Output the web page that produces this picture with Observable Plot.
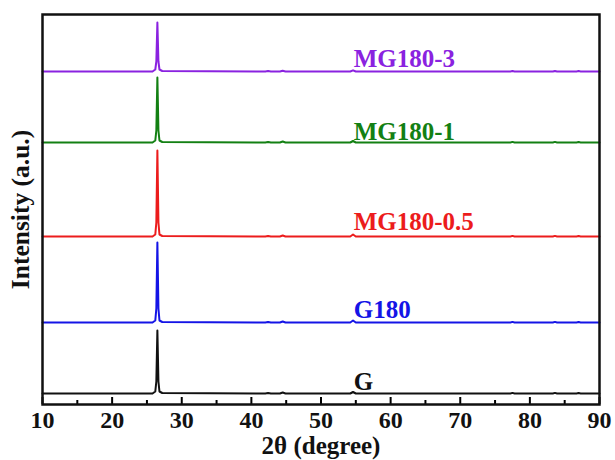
<!DOCTYPE html>
<html>
<head>
<meta charset="utf-8">
<script src="https://cdn.jsdelivr.net/npm/d3@7"></script>
<script src="https://cdn.jsdelivr.net/npm/@observablehq/plot@0.6"></script>
<style>
  body { margin: 0; background: #fff; }
  svg { font-family: "Liberation Serif", serif; }
</style>
</head>
<body>
<div id="chart"></div>
<script>
// 2θ sample positions (degrees)
const twoTheta = [10, 25.8, 26.2, 26.35, 26.5, 26.65, 26.8, 27.2, 42.0, 42.4, 42.8, 44.1, 44.5, 44.9, 54.2, 54.6, 55.0, 77.2, 77.5, 77.8, 83.3, 83.6, 83.9, 86.7, 87.0, 87.3, 90];

// Series names, colors, vertical offsets (a.u.)
const seriesNames = ["G", "G180", "MG180-0.5", "MG180-1", "MG180-3"];
const seriesColors = ["#111111", "#1414e6", "#ec1c1c", "#138013", "#8a22e0"];
const seriesOffsets = [11, 82, 168, 262, 333];

// Intensities (a.u., relative to each curve's baseline)
const intensityG      = [0, 0, 2, 12, 63, 12, 2, 0.5, 0, 0.6, 0, 0, 1, 0, 0, 1.5, 0, 0, 0.6, 0, 0, 0.6, 0, 0, 0.5, 0, 0];
const intensityG180   = [0, 0, 2, 14, 80, 14, 2, 0.5, 0, 0.6, 0, 0, 1, 0, 0, 2, 0, 0, 0.6, 0, 0, 0.6, 0, 0, 0.5, 0, 0];
const intensityMG05   = [0, 0, 2, 14, 86, 14, 2, 0.5, 0, 0.6, 0, 0, 1, 0, 0, 2, 0, 0, 0.6, 0, 0, 0.6, 0, 0, 0.5, 0, 0];
const intensityMG1    = [0, 0, 2, 12, 65, 12, 2, 0.5, 0, 0.6, 0, 0, 1, 0, 0, 1.5, 0, 0, 0.6, 0, 0, 0.6, 0, 0, 0.5, 0, 0];
const intensityMG3    = [0, 0, 2, 10, 49, 10, 2, 0.5, 0, 0.5, 0, 0, 0.8, 0, 0, 1.2, 0, 0, 0.5, 0, 0, 0.5, 0, 0, 0.4, 0, 0];
const intensities = [intensityG, intensityG180, intensityMG05, intensityMG1, intensityMG3];

// Label positions
const labelX = 54.7;
const labelY = [23, 95, 183, 273, 346];

// Axis ticks
const majorTicks = [10, 20, 30, 40, 50, 60, 70, 80, 90];
const minorTicks = [15, 25, 35, 45, 55, 65, 75, 85];

const rows = [];
seriesNames.forEach((name, i) => {
  twoTheta.forEach((t, j) => rows.push({x: t, y: seriesOffsets[i] + intensities[i][j], series: name}));
});
const labels = seriesNames.map((name, i) => ({name, x: labelX, y: labelY[i], color: seriesColors[i]}));

const chart = Plot.plot({
  width: 615,
  height: 460,
  marginLeft: 42,
  marginRight: 16,
  marginTop: 14,
  marginBottom: 56,
  style: {fontFamily: "Liberation Serif, serif", background: "#fff"},
  x: {domain: [10, 90]},
  y: {domain: [0, 390], axis: null},
  color: {domain: seriesNames, range: seriesColors},
  marks: [
    Plot.line(rows, {x: "x", y: "y", z: "series", stroke: "series", strokeWidth: 2}),
    Plot.text(labels, {x: "x", y: "y", text: "name", fill: "color", textAnchor: "start", fontSize: 25, fontWeight: "bold"}),
    Plot.axisX({ticks: majorTicks, tickSize: -7, strokeWidth: 2, label: null, tickFormat: d => String(d), fontSize: 24, fontWeight: "bold", fill: "#111", tickPadding: 13, anchor: "bottom"}),
    Plot.axisX({ticks: minorTicks, tickSize: -4, strokeWidth: 2, label: null, tickFormat: () => "", anchor: "bottom"}),
    Plot.frame({stroke: "#111", strokeWidth: 2.5}),
    Plot.text(["2θ (degree)"], {frameAnchor: "bottom", dy: 41, lineAnchor: "middle", fontSize: 25, fontWeight: "bold", fill: "#111"}),
    Plot.text(["Intensity (a.u.)"], {frameAnchor: "left", dx: -22, rotate: -90, textAnchor: "middle", lineAnchor: "middle", fontSize: 25.5, fontWeight: "bold", fill: "#111"})
  ]
});
document.getElementById("chart").appendChild(chart);
</script>
</body>
</html>
